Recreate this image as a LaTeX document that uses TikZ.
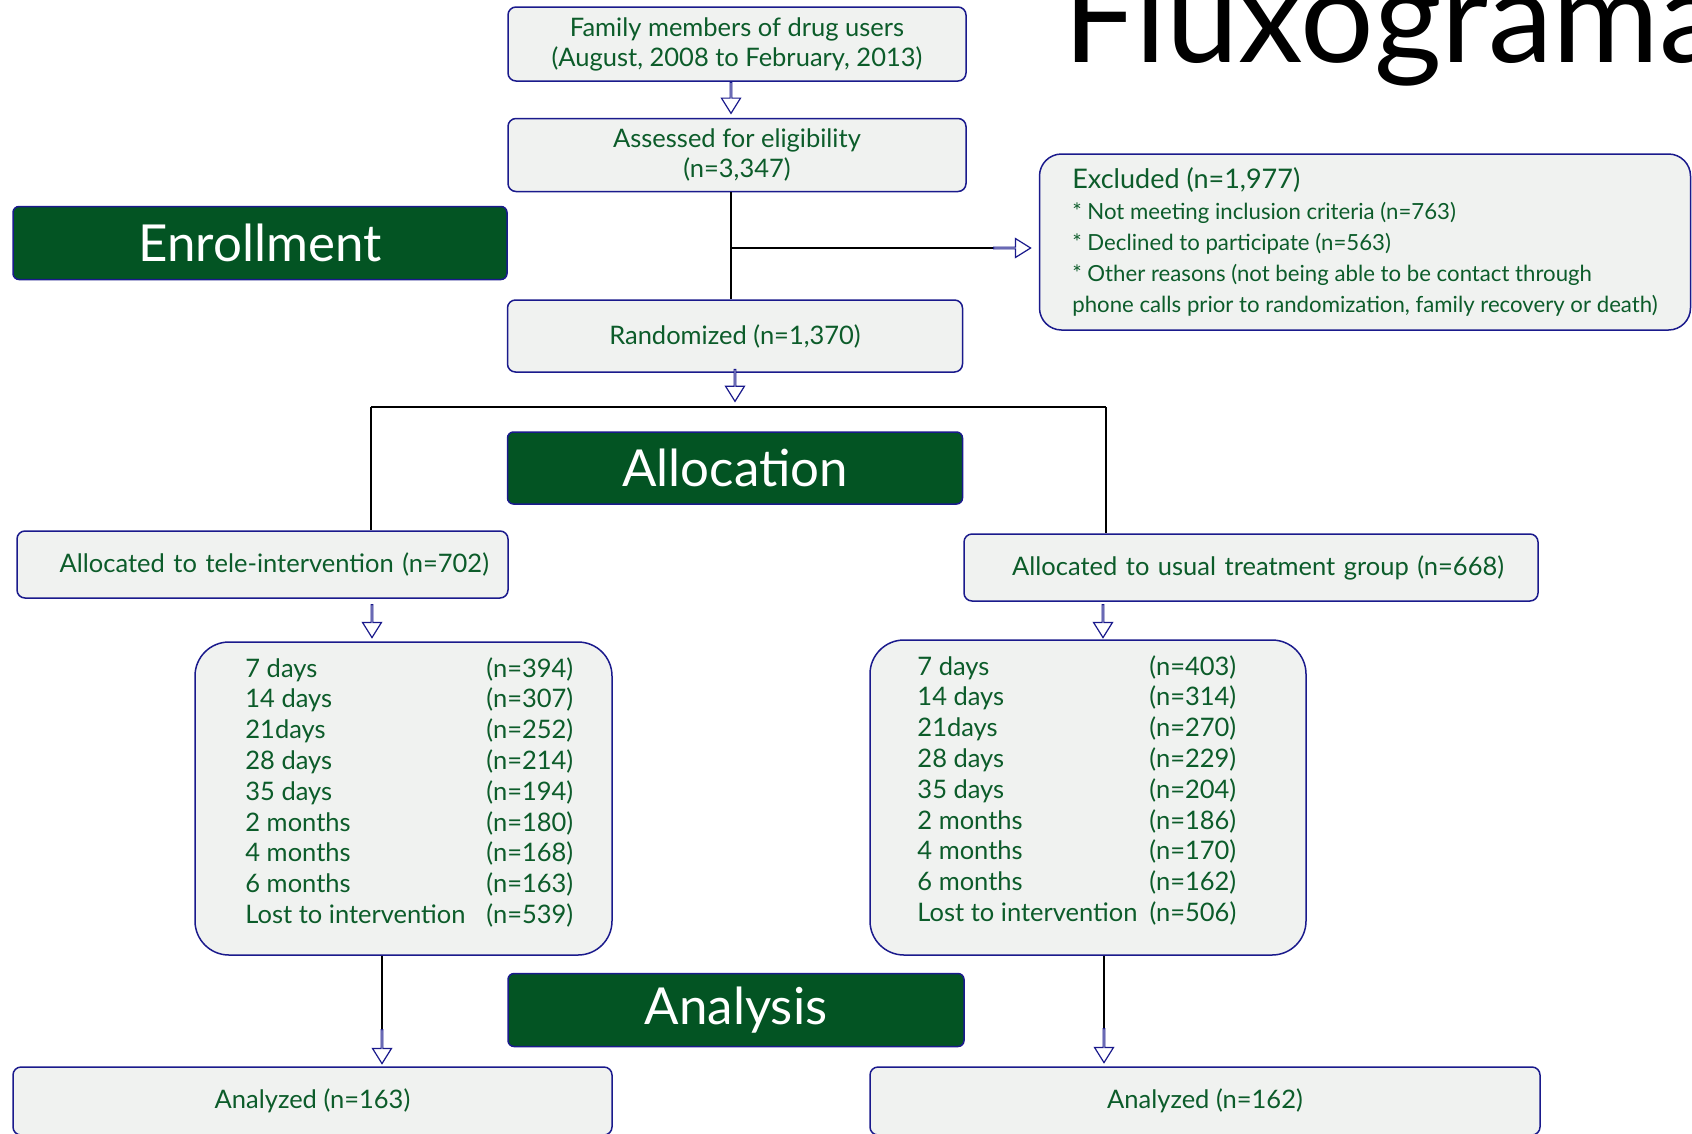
\documentclass[tikz,border=0pt]{standalone}
\usepackage{fontspec}
\setmainfont{Lato}
\usepackage{tikz}
\usetikzlibrary{positioning, shapes.arrows}
\definecolor{boxfill}{RGB}{240,242,240}
\definecolor{boxline}{RGB}{26,26,140}
\definecolor{txtgreen}{RGB}{12,92,42}
\definecolor{headgreen}{RGB}{3,84,35}
\tikzstyle{box} = [draw=boxline, fill=boxfill, line width=1.5pt, rounded corners=8pt, text=txtgreen, align=center, font=\fontsize{25.5}{30}\selectfont]
\tikzstyle{listbox} = [box, rounded corners=34pt]
\tikzstyle{listtext} = [inner sep=0pt, text=txtgreen, font=\fontsize{25.5}{30.8}\selectfont]
\tikzstyle{head} = [draw=boxline, fill=headgreen, line width=1.5pt, rounded corners=6pt, text=white, font=\fontsize{51}{56}\selectfont]
\tikzstyle{link} = [line width=1.6pt]
\tikzstyle{blockarrow} = [single arrow, draw=boxline, fill=white, line width=1.2pt, minimum width=19pt, single arrow head extend=6pt, single arrow head indent=0pt, single arrow tip angle=64, inner sep=0pt, minimum height=31pt]

\begin{document}
\begin{tikzpicture}[x=1pt, y=-1pt]
  \useasboundingbox (0,0) rectangle (1692,1133);
  % Title
  \node[anchor=base west, inner sep=0pt, font=\fontsize{130}{130}\selectfont] (title) at (1063,62) {Fluxograma};

  % Enrollment
  \node[box, minimum width=458pt, minimum height=74pt] (family) at (737,44) {Family members of drug users\\(August, 2008 to February, 2013)};
  \node[box, minimum width=458pt, minimum height=73pt] (assess) at (737,155) {Assessed for eligibility\\(n=3,347)};
  \node[head, minimum width=494pt, minimum height=73pt] (enroll) at (260,243) {Enrollment};
  \node[box, align=left, minimum width=651pt, minimum height=176pt, rounded corners=22pt, font=\fontsize{22.2}{31}\selectfont] (excluded) at (1365,242)
    {{\fontsize{27}{31}\selectfont Excluded (n=1,977)}\\
     {*} Not meeting inclusion criteria (n=763)\\
     {*} Declined to participate (n=563)\\
     {*} Other reasons (not being able to be contact through\\
     phone calls prior to randomization, family recovery or death)};
  \node[box, minimum width=455pt, minimum height=72pt] (random) at (735,336) {Randomized (n=1,370)};

  \node[blockarrow, rotate=-90, anchor=tail] (famarrow) at ([xshift=-6pt]family.south) {};
  \draw[link] ([xshift=-6pt]assess.south) -- ([xshift=-4pt]random.north);
  \coordinate (split) at (731,248);
  \node[blockarrow, anchor=tail, minimum height=37pt] (excarrow) at (993,248) {};
  \draw[link] (split) -- (excarrow.tail);

  % Allocation
  \node[blockarrow, rotate=-90, anchor=tail, minimum height=32pt] (randarrow) at ([yshift=4pt]random.south) {};
  \coordinate (lsplit) at (371,407);
  \coordinate (rsplit) at (1106,407);
  \node[head, minimum width=455pt, minimum height=72pt] (alloc) at (735,468) {Allocation};
  \node[box, align=right, text width=453pt, inner xsep=19pt, minimum height=67pt] (tele) at (262.5,564.5) {Allocated to tele-intervention (n=702)};
  \node[box, align=right, text width=506pt, inner xsep=34pt, minimum height=67pt] (usual) at (1251,567.5) {Allocated to usual treatment group (n=668)};
  \draw[link] (lsplit) -- (rsplit);
  \draw[link] (lsplit) -- (lsplit |- tele.north);
  \draw[link] (rsplit) -- (rsplit |- usual.north);

  \node[blockarrow, rotate=-90, anchor=tail, minimum height=33pt] (telearrow) at (372,604) {};
  \node[blockarrow, rotate=-90, anchor=tail, minimum height=33pt] (usualarrow) at (1103,604) {};

  % Follow-up
  \node[listbox, minimum width=417pt, minimum height=313pt] (telelist) at (403.5,798.5) {};
  \node[listtext, below right=14pt and 51pt of telelist.north west] (teletab) {%
    \begin{tabular}{@{}p{241pt}@{}l@{}}
      7 days & (n=394)\\
      14 days & (n=307)\\
      21days & (n=252)\\
      28 days & (n=214)\\
      35 days & (n=194)\\
      2 months & (n=180)\\
      4 months & (n=168)\\
      6 months & (n=163)\\
      Lost to intervention & (n=539)
    \end{tabular}};
  \node[listbox, minimum width=436pt, minimum height=315pt] (usuallist) at (1088,797.5) {};
  \node[listtext, below right=14pt and 48pt of usuallist.north west] (usualtab) {%
    \begin{tabular}{@{}p{232pt}@{}l@{}}
      7 days & (n=403)\\
      14 days & (n=314)\\
      21days & (n=270)\\
      28 days & (n=229)\\
      35 days & (n=204)\\
      2 months & (n=186)\\
      4 months & (n=170)\\
      6 months & (n=162)\\
      Lost to intervention & (n=506)
    \end{tabular}};

  % Analysis
  \node[blockarrow, rotate=-90, anchor=tail, minimum height=34pt] (telelast) at (382,1029) {};
  \node[blockarrow, rotate=-90, anchor=tail, minimum height=34pt] (usuallast) at (1104,1028) {};
  \draw[link] (telelast.tail |- telelist.south) -- (telelast.tail);
  \draw[link] (usuallast.tail |- usuallist.south) -- (usuallast.tail);
  \node[head, minimum width=456pt, minimum height=73pt] (analysis) at (736,1010) {Analysis};
  \node[box, minimum width=599pt, minimum height=68pt] (teleend) at (312.5,1101) {Analyzed (n=163)};
  \node[box, minimum width=670pt, minimum height=68pt] (usualend) at (1205,1101) {Analyzed (n=162)};
\end{tikzpicture}
\end{document}
